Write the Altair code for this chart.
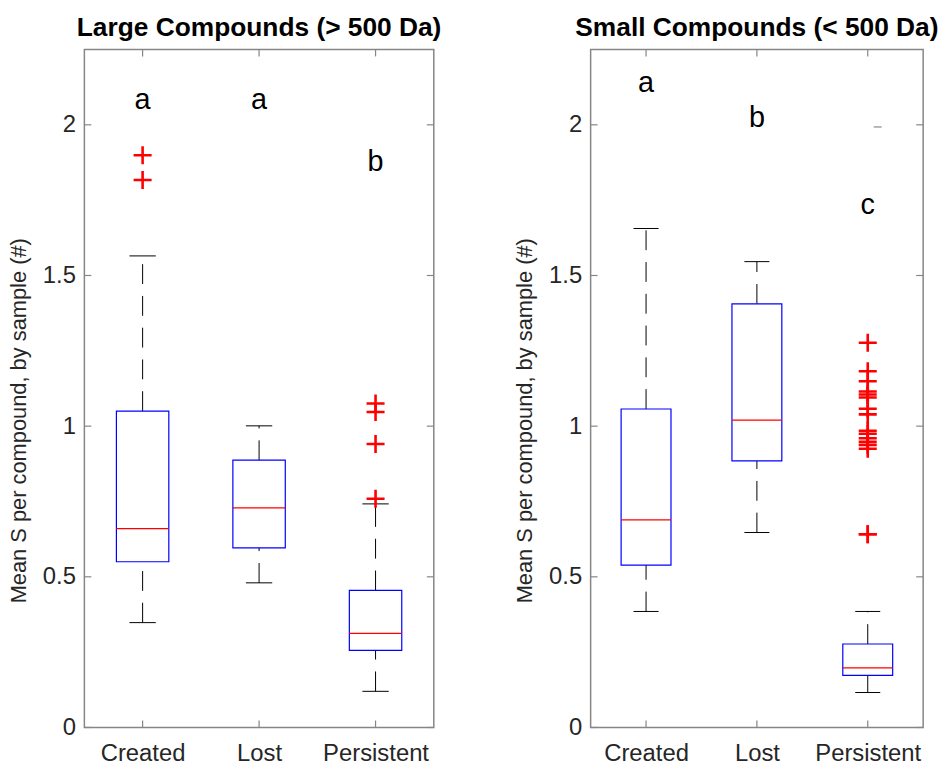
import json
import altair as alt
import pandas as pd

# ---------------- data ----------------
categories = ["Created", "Lost", "Persistent"]

large_q1 = [0.550, 0.596, 0.256]
large_median = [0.660, 0.729, 0.3125]
large_q3 = [1.050, 0.887, 0.455]
large_wlo = [0.348, 0.480, 0.120]
large_whi = [1.565, 1.001, 0.742]
large_out_cat = ["Created", "Created", "Persistent", "Persistent", "Persistent", "Persistent"]
large_out_val = [1.899, 1.817, 1.075, 1.047, 0.941, 0.759]
large_letters = ["a", "a", "b"]
large_letter_y = [2.082, 2.082, 1.875]

small_q1 = [0.539, 0.885, 0.173]
small_median = [0.689, 1.020, 0.198]
small_q3 = [1.057, 1.406, 0.277]
small_wlo = [0.385, 0.647, 0.116]
small_whi = [1.656, 1.546, 0.385]
small_out_cat = ["Persistent"] * 16
small_out_val = [1.277, 1.182, 1.149, 1.115, 1.105, 1.095, 1.058, 1.039,
                 0.985, 0.975, 0.960, 0.948, 0.938, 0.925, 0.641, 0.641]
small_letters = ["a", "b", "c"]
small_letter_y = [2.138, 2.023, 1.734]
small_stray_cat = ["Persistent"]
small_stray_val = [1.993]

y_ticks = [0, 0.5, 1, 1.5, 2]
y_domain = [0, 2.25]
y_title = "Mean S per compound, by sample (#)"

FONT = "Liberation Sans"
AXIS_GRAY = "#868686"
TEXT_DARK = "#262626"
H = 683
TICK = 7

label_expr = "%s[datum.value - 1]" % json.dumps(categories)


def make_panel(title, q1, med, q3, wlo, whi, out_cat, out_val, letters, letter_y, W,
               stray_cat=None, stray_val=None):
    pos = list(range(1, len(categories) + 1))
    stats = pd.DataFrame({"cat": categories, "pos": pos, "q1": q1, "med": med,
                          "q3": q3, "wlo": wlo, "whi": whi,
                          "letter": letters, "ly": letter_y})
    outs = pd.DataFrame({"cat": out_cat, "v": out_val})
    outs["pos"] = outs["cat"].map({c: i + 1 for i, c in enumerate(categories)})
    ticks = pd.DataFrame({"v": y_ticks})
    xt = pd.DataFrame({"pos": pos})

    xscale = alt.Scale(domain=[0.5, 3.5], nice=False, zero=False)
    yscale = alt.Scale(domain=y_domain, nice=False, zero=True)

    xaxis = alt.Axis(values=pos, labelExpr=label_expr, ticks=False, domain=False,
                     grid=False, labelFontSize=24, labelFont=FONT, labelColor=TEXT_DARK,
                     labelPadding=14, title=None)
    yaxis = alt.Axis(values=y_ticks, format="~g", ticks=False, domain=False, grid=False,
                     labelFontSize=24, labelFont=FONT, labelColor=TEXT_DARK,
                     labelPadding=9, title=y_title, titleFontSize=22, titleFont=FONT,
                     titleFontWeight="normal", titleColor=TEXT_DARK, titlePadding=12,
                     titleY=H / 2 + 32)

    base = alt.Chart(stats).transform_calculate(
        lo="datum.pos - 0.225", hi="datum.pos + 0.225",
        clo="datum.pos - 0.113", chi="datum.pos + 0.113")

    lower_wh = base.mark_rule(color="black", strokeWidth=1, strokeDash=[20, 12]).encode(
        x=alt.X("pos:Q", scale=xscale, axis=xaxis),
        y=alt.Y("wlo:Q", scale=yscale, axis=yaxis),
        y2="q1:Q")
    upper_wh = base.mark_rule(color="black", strokeWidth=1, strokeDash=[20, 12]).encode(
        x=alt.X("pos:Q", scale=xscale), y=alt.Y("q3:Q", scale=yscale), y2="whi:Q")
    caps_lo = base.mark_rule(color="black", strokeWidth=1).encode(
        x=alt.X("clo:Q", scale=xscale), x2="chi:Q", y=alt.Y("wlo:Q", scale=yscale))
    caps_hi = base.mark_rule(color="black", strokeWidth=1).encode(
        x=alt.X("clo:Q", scale=xscale), x2="chi:Q", y=alt.Y("whi:Q", scale=yscale))
    box = base.mark_rect(fill="white", stroke="#0000ff", strokeWidth=1.2).encode(
        x=alt.X("lo:Q", scale=xscale), x2="hi:Q",
        y=alt.Y("q1:Q", scale=yscale), y2="q3:Q")
    median = base.mark_rule(color="#ff0000", strokeWidth=1.2).encode(
        x=alt.X("lo:Q", scale=xscale), x2="hi:Q", y=alt.Y("med:Q", scale=yscale))
    outliers = alt.Chart(outs).mark_point(
        shape="M-1,0L1,0M0,-1L0,1", size=330, filled=False, stroke="#ff0000",
        strokeWidth=2.6, opacity=1).encode(
        x=alt.X("pos:Q", scale=xscale), y=alt.Y("v:Q", scale=yscale))
    letters_l = base.mark_text(fontSize=29, font=FONT, color="black",
                               baseline="middle", align="center").encode(
        x=alt.X("pos:Q", scale=xscale), y=alt.Y("ly:Q", scale=yscale), text="letter:N")

    tl = alt.Chart(ticks).mark_rule(color=AXIS_GRAY, strokeWidth=1.2).encode(
        y=alt.Y("v:Q", scale=yscale), x=alt.value(0), x2=alt.value(TICK))
    tr = alt.Chart(ticks).mark_rule(color=AXIS_GRAY, strokeWidth=1.2).encode(
        y=alt.Y("v:Q", scale=yscale), x=alt.value(W - TICK), x2=alt.value(W))
    tb = alt.Chart(xt).mark_rule(color=AXIS_GRAY, strokeWidth=1.2).encode(
        x=alt.X("pos:Q", scale=xscale), y=alt.value(H - TICK), y2=alt.value(H))
    tt = alt.Chart(xt).mark_rule(color=AXIS_GRAY, strokeWidth=1.2).encode(
        x=alt.X("pos:Q", scale=xscale), y=alt.value(0), y2=alt.value(TICK))

    layers = [lower_wh, upper_wh, box, median, caps_lo, caps_hi, outliers,
              letters_l, tl, tr, tb, tt]
    if stray_cat:
        st = pd.DataFrame({"cat": stray_cat, "v": stray_val})
        st["pos"] = st["cat"].map({c: i + 1 for i, c in enumerate(categories)}) + 0.09
        layers.append(alt.Chart(st).mark_tick(color="#777777", thickness=1.5, size=8,
                                              orient="horizontal").encode(
            x=alt.X("pos:Q", scale=xscale), y=alt.Y("v:Q", scale=yscale)))

    return alt.layer(*layers).properties(
        width=W, height=H,
        title=alt.TitleParams(title, fontSize=26.5, font=FONT, fontWeight="bold",
                              color="black", anchor="middle", baseline="bottom",
                              offset=-20))


left = make_panel("Large Compounds (> 500 Da)", large_q1, large_median, large_q3,
                  large_wlo, large_whi, large_out_cat, large_out_val,
                  large_letters, large_letter_y, 352)
right = make_panel("Small Compounds (< 500 Da)", small_q1, small_median, small_q3,
                   small_wlo, small_whi, small_out_cat, small_out_val,
                   small_letters, small_letter_y, 335,
                   stray_cat=small_stray_cat, stray_val=small_stray_val)

chart = alt.hconcat(left, right, spacing=158, bounds="flush").properties(
    padding={"left": 6, "top": 12, "right": 5, "bottom": 5},
    background="white",
).configure_view(stroke=AXIS_GRAY, strokeWidth=1.5)

chart.save("out.html", embed_options={"renderer": "svg", "actions": False})
